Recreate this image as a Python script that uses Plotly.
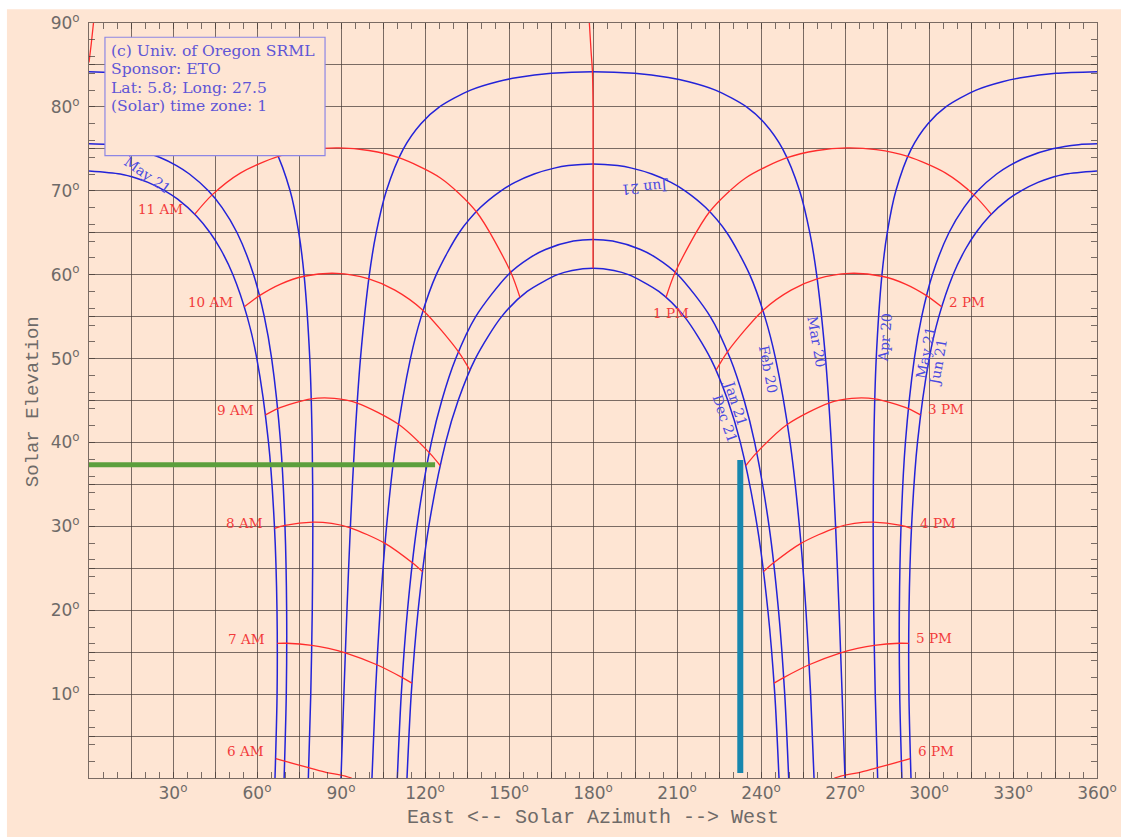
import plotly.graph_objects as go

# ---------------- sun-path (date) curves: azimuth / elevation in degrees ----------------
dec21_az = [113.57, 115.08, 117.55, 121.35, 127.38, 131.84, 137.99, 147.36, 156.5, 167.32, 172.53, 180.0,
            187.47, 192.68, 203.5, 212.64, 222.01, 228.16, 232.62, 238.65, 242.45, 244.92, 246.43]
dec21_el = [0, 10, 20, 30, 40, 45, 50, 55, 58, 60, 60.5, 60.76,
            60.5, 60, 58, 55, 50, 45, 40, 30, 20, 10, 0]

jan21_az = [110.11, 111.53, 113.75, 117.11, 122.27, 126.0, 130.98, 138.11, 149.71, 157.41, 163.03, 172.97, 180.0,
            187.03, 196.97, 202.59, 210.29, 221.89, 229.02, 234.0, 237.73, 242.89, 246.25, 248.47, 249.89]
jan21_el = [0, 10, 20, 30, 40, 45, 50, 55, 60, 62, 63, 64, 64.2,
            64, 63, 62, 60, 55, 50, 45, 40, 30, 20, 10, 0]

feb20_az = [101.06, 102.28, 103.95, 106.27, 109.61, 114.8, 118.65, 124.02, 132.19, 139.76, 147.13, 152.14, 158.97,
            166.18, 171.2, 180.0, 188.8, 193.82, 201.03, 207.86, 212.87, 220.24, 227.81, 235.98, 241.35, 245.2,
            250.39, 253.73, 256.05, 257.72, 258.94]
feb20_el = [0, 10, 20, 30, 40, 50, 55, 60, 65, 68, 70, 71, 72,
            72.7, 73.0, 73.2, 73.0, 72.7, 72, 71, 70, 68, 65, 60, 55, 50,
            40, 30, 20, 10, 0]

mar20_az = [90.0, 91.03, 92.12, 93.36, 94.89, 96.95, 100.13, 102.58, 106.21, 112.28, 118.55, 125.17, 136.28,
            145.82, 153.06, 165.13, 180.0, 194.87, 206.94, 214.18, 223.72, 234.83, 241.45, 247.72, 253.79,
            257.42, 259.87, 263.05, 265.11, 266.64, 267.88, 268.97, 270.0]
mar20_el = [0, 10, 20, 30, 40, 50, 60, 65, 70, 75, 78, 80, 82,
            83, 83.5, 84, 84.2, 84, 83.5, 83, 82, 80, 78, 75, 70,
            65, 60, 50, 40, 30, 20, 10, 0]

apr20_am_az = [78.34, 79.2, 79.74, 79.94, 79.71, 78.85, 76.8, 74.91, 71.83, 66.31, 60.38, 54.0, 43.16, 33.78, 26.63, 14.73, 0.0]
apr20_am_el = [0, 10, 20, 30, 40, 50, 60, 65, 70, 75, 78, 80, 82, 83, 83.5, 84, 84.2]
apr20_pm_az = [360.0, 345.27, 333.37, 326.22, 316.84, 306.0, 299.62, 293.69, 288.17, 285.09, 283.2, 281.15, 280.29, 280.06, 280.26, 280.8, 281.66]
apr20_pm_el = [84.2, 84, 83.5, 83, 82, 80, 78, 75, 70, 65, 60, 50, 40, 30, 20, 10, 0]

may21_am_az = [69.69, 70.46, 70.59, 69.99, 68.42, 65.24, 62.61, 58.79, 52.89, 47.54, 42.63, 35.85, 31.25, 25.18, 15.86, 6.58, 0.0]
may21_am_el = [0, 10, 20, 30, 40, 50, 55, 60, 65, 68, 70, 72, 73, 74, 75, 75.5, 75.6]
may21_pm_az = [360.0, 353.42, 344.14, 334.82, 328.75, 324.15, 317.37, 312.46, 307.11, 301.21, 297.39, 294.76, 291.58, 290.01, 289.41, 289.54, 290.31]
may21_pm_el = [75.6, 75.5, 75, 74, 73, 72, 70, 68, 65, 60, 55, 50, 40, 30, 20, 10, 0]

jun21_am_az = [66.43, 67.17, 67.14, 66.23, 64.11, 59.94, 56.49, 51.41, 47.05, 43.26, 38.37, 31.67, 27.13, 21.08, 16.98, 11.12, 0.0]
jun21_am_el = [0, 10, 20, 30, 40, 50, 55, 60, 63, 65, 67, 69, 70, 71, 71.5, 72, 72.36]
jun21_pm_az = [360.0, 348.88, 343.02, 338.92, 332.87, 328.33, 321.63, 316.74, 312.95, 308.59, 303.51, 300.06, 295.89, 293.77, 292.86, 292.83, 293.57]
jun21_pm_el = [72.36, 72, 71.5, 71, 70, 69, 67, 65, 63, 60, 55, 50, 40, 30, 20, 10, 0]

# ---------------- hour lines (solar time) ----------------
h6am_az = [66.7, 69.9, 78.4, 85.0, 90.0, 93.8]
h6am_el = [2.3, 2.0, 1.25, 0.65, 0.35, 0.0]
h7am_az = [67.24, 70.62, 79.56, 85.57, 91.55, 102.81, 111.9, 115.34]
h7am_el = [16.05, 16.06, 15.82, 15.45, 14.92, 13.5, 11.97, 11.31]
h8am_az = [66.26, 69.98, 79.94, 86.66, 93.34, 105.73, 115.48, 119.09]
h8am_el = [29.77, 30.12, 30.5, 30.34, 29.83, 27.97, 25.65, 24.6]
h9am_az = [63.03, 67.38, 79.37, 87.6, 95.77, 110.53, 121.52, 125.41]
h9am_el = [43.29, 44.04, 45.19, 45.25, 44.7, 42.17, 38.79, 37.25]
h10am_az = [55.49, 60.88, 68.42, 76.86, 88.45, 99.93, 109.25, 119.33, 131.96, 136.06]
h10am_el = [56.17, 57.5, 58.88, 59.81, 60.16, 59.5, 58.16, 55.74, 50.81, 48.61]
h11am_az = [37.79, 43.96, 54.04, 67.61, 78.84, 89.24, 99.97, 110.66, 125.5, 138.36, 150.63, 153.91]
h11am_el = [67.22, 69.51, 72.11, 74.1, 74.9, 75.11, 74.8, 73.94, 71.53, 67.5, 60.3, 57.3]
h12_south_az = [178.7, 179.3, 179.8, 180.0, 180.0, 180.0]
h12_south_el = [90.0, 86.7, 84.2, 80.0, 70.0, 60.76]
h12_north_az = [1.6, 0.8, 0.0]
h12_north_el = [90.0, 87.5, 85.3]
h1pm_az = [322.21, 316.04, 305.96, 292.39, 281.16, 270.76, 260.03, 249.34, 234.5, 221.64, 209.37, 206.09]
h1pm_el = [67.22, 69.51, 72.11, 74.1, 74.9, 75.11, 74.8, 73.94, 71.53, 67.5, 60.3, 57.3]
h2pm_az = [304.51, 299.12, 291.58, 283.14, 271.55, 260.07, 250.75, 240.67, 228.04, 223.94]
h2pm_el = [56.17, 57.5, 58.88, 59.81, 60.16, 59.5, 58.16, 55.74, 50.81, 48.61]
h3pm_az = [296.97, 292.62, 280.63, 272.4, 264.23, 249.47, 238.48, 234.59]
h3pm_el = [43.29, 44.04, 45.19, 45.25, 44.7, 42.17, 38.79, 37.25]
h4pm_az = [293.74, 290.02, 280.06, 273.34, 266.66, 254.27, 244.52, 240.91]
h4pm_el = [29.77, 30.12, 30.5, 30.34, 29.83, 27.97, 25.65, 24.6]
h5pm_az = [292.76, 289.38, 280.44, 274.43, 268.45, 257.19, 248.1, 244.66]
h5pm_el = [16.05, 16.06, 15.82, 15.45, 14.92, 13.5, 11.97, 11.31]
h6pm_az = [293.3, 290.1, 281.6, 275.0, 270.0, 266.2]
h6pm_el = [2.3, 2.0, 1.25, 0.65, 0.35, 0.0]

# ---------------- labels ----------------
am_labels = ["6 AM", "7 AM", "8 AM", "9 AM", "10 AM", "11 AM"]
am_label_az = [63.2, 63.7, 62.7, 59.6, 52.0, 34.4]
am_label_el = [3.2, 16.6, 30.4, 43.9, 56.8, 67.8]
pm_labels = ["1 PM", "2 PM", "3 PM", "4 PM", "5 PM", "6 PM"]
pm_label_az = [200.7, 306.5, 298.9, 295.9, 294.7, 295.2]
pm_label_el = [55.4, 56.8, 44.0, 30.4, 16.7, 3.25]

date_labels = ["May 21", "Jun 21", "Jan 21", "Dec 21", "Feb 20", "Mar 20", "Apr 20", "May 21", "Jun 21"]
date_label_az = [20.8, 198.6, 231.0, 227.2, 242.7, 260.0, 284.1, 298.7, 303.1]
date_label_el = [71.85, 70.4, 44.7, 42.8, 48.8, 52.0, 52.5, 50.7, 49.5]
date_label_angle = [35, 175, 72, 71, 79, 80, -85, -79, -80]

info_lines = ["(c) Univ. of Oregon SRML", "Sponsor: ETO", "Lat: 5.8; Long: 27.5", "(Solar) time zone: 1"]
info_line_el = [86.66, 84.48, 82.25, 80.07]

x_tick_vals = list(range(0, 361, 15))
x_tick_text = ["" if (v == 0 or v % 30) else f"{v}<sup>o</sup>" for v in x_tick_vals]
y_tick_vals = list(range(0, 91, 5))
y_tick_text = ["" if (v == 0 or v % 10) else f"{v}<sup>o</sup>" for v in y_tick_vals]
x_minor_vals = [v for v in range(5, 360, 5) if v % 15]
y_minor_vals = [v for v in range(2, 90, 2) if v % 5]

# reference marks
green_az = [0.0, 123.6]
green_el = [37.35, 37.35]
teal_az = [232.6, 232.6]
teal_el = [0.6, 37.9]

BG = "#fee5d3"
GRID = "rgba(70,60,55,0.72)"
BLUE = "#2323d8"
RED = "#ff2c2c"
LABEL_RED = "#f23a3a"
LABEL_BLUE = "#4b4be0"
GRAY = "#6e6a68"

fig = go.Figure()

date_curves = [
    (dec21_az, dec21_el), (jan21_az, jan21_el), (feb20_az, feb20_el), (mar20_az, mar20_el),
    (apr20_am_az, apr20_am_el), (apr20_pm_az, apr20_pm_el),
    (may21_am_az, may21_am_el), (may21_pm_az, may21_pm_el),
    (jun21_am_az, jun21_am_el), (jun21_pm_az, jun21_pm_el),
]
for az, el in date_curves:
    fig.add_trace(go.Scatter(x=az, y=el, mode="lines",
                             line=dict(color=BLUE, width=1.5, shape="spline", smoothing=0.8),
                             hoverinfo="skip"))

hour_curves = [
    (h6am_az, h6am_el), (h7am_az, h7am_el), (h8am_az, h8am_el), (h9am_az, h9am_el),
    (h10am_az, h10am_el), (h11am_az, h11am_el), (h12_south_az, h12_south_el), (h12_north_az, h12_north_el),
    (h1pm_az, h1pm_el), (h2pm_az, h2pm_el), (h3pm_az, h3pm_el), (h4pm_az, h4pm_el),
    (h5pm_az, h5pm_el), (h6pm_az, h6pm_el),
]
for az, el in hour_curves:
    fig.add_trace(go.Scatter(x=az, y=el, mode="lines",
                             line=dict(color=RED, width=1.3, shape="spline", smoothing=0.8),
                             hoverinfo="skip"))

fig.add_trace(go.Scatter(x=green_az, y=green_el, mode="lines",
                         line=dict(color="#5c9f3c", width=5), hoverinfo="skip"))
fig.add_trace(go.Scatter(x=teal_az, y=teal_el, mode="lines",
                         line=dict(color="#1787ae", width=6), hoverinfo="skip"))

annotations = []
for t, a, e in zip(am_labels, am_label_az, am_label_el):
    annotations.append(dict(x=a, y=e, xref="x", yref="y", text=t, showarrow=False,
                            xanchor="right", yanchor="middle",
                            font=dict(family="DejaVu Serif", size=13.5, color=LABEL_RED)))
for t, a, e in zip(pm_labels, pm_label_az, pm_label_el):
    annotations.append(dict(x=a, y=e, xref="x", yref="y", text=t, showarrow=False,
                            xanchor="left", yanchor="middle",
                            font=dict(family="DejaVu Serif", size=13.5, color=LABEL_RED)))
for t, a, e, ang in zip(date_labels, date_label_az, date_label_el, date_label_angle):
    annotations.append(dict(x=a, y=e, xref="x", yref="y", text=t, showarrow=False,
                            xanchor="center", yanchor="middle", textangle=ang,
                            font=dict(family="DejaVu Serif", size=14, color=LABEL_BLUE)))
for t, e in zip(info_lines, info_line_el):
    annotations.append(dict(x=7.3, y=e, xref="x", yref="y", text=t, showarrow=False,
                            xanchor="left", yanchor="middle",
                            font=dict(family="DejaVu Serif", size=15.6, color="#5f56d6")))

annotations.append(dict(x=-0.0553, y=0.498, xref="paper", yref="paper", text="Solar Elevation",
                        showarrow=False, textangle=-90, xanchor="center", yanchor="middle",
                        font=dict(family="Liberation Mono", size=19, color=GRAY)))
annotations.append(dict(x=0.5, y=-0.0525, xref="paper", yref="paper",
                        text="East &lt;-- Solar Azimuth --&gt; West",
                        showarrow=False, xanchor="center", yanchor="middle",
                        font=dict(family="Liberation Mono", size=20, color=GRAY)))

shapes = [
    # information box
    dict(type="rect", xref="x", yref="y", x0=5.7, x1=84.3, y0=74.2, y1=88.3,
         fillcolor=BG, line=dict(color="#8d86e4", width=1.2), layer="above"),
    # white margins of the page
    dict(type="rect", xref="paper", yref="paper", x0=-0.09, x1=1.03, y0=1.0181, y1=1.04,
         fillcolor="white", line=dict(width=0), layer="above"),
    dict(type="rect", xref="paper", yref="paper", x0=-0.09, x1=-0.0814, y0=-0.08, y1=1.04,
         fillcolor="white", line=dict(width=0), layer="above"),
]

axis_common = dict(
    showline=True, linecolor=GRID, linewidth=1, mirror="ticks",
    ticks="inside", ticklen=6, tickcolor=GRID, tickwidth=1,
    showgrid=True, gridcolor=GRID, gridwidth=1, zeroline=False,
    tickfont=dict(family="DejaVu Sans", size=17, color=GRAY),
    tickmode="array", automargin=False,
)

fig.update_xaxes(range=[0, 360], tickvals=x_tick_vals, ticktext=x_tick_text,
                 minor=dict(tickmode="array", tickvals=x_minor_vals, ticks="inside",
                            ticklen=6, tickcolor=GRID, showgrid=False),
                 **axis_common)
fig.update_yaxes(range=[0, 90], tickvals=y_tick_vals, ticktext=y_tick_text,
                 ticklabelstandoff=5,
                 minor=dict(tickmode="array", tickvals=y_minor_vals, ticks="inside",
                            ticklen=6, tickcolor=GRID, showgrid=False),
                 **axis_common)

fig.update_layout(
    width=1121, height=837, autosize=False,
    margin=dict(l=89, r=24, t=23, b=59, autoexpand=False),
    paper_bgcolor=BG, plot_bgcolor=BG,
    showlegend=False,
    annotations=annotations,
    shapes=shapes,
)

fig.write_html("out.html")
